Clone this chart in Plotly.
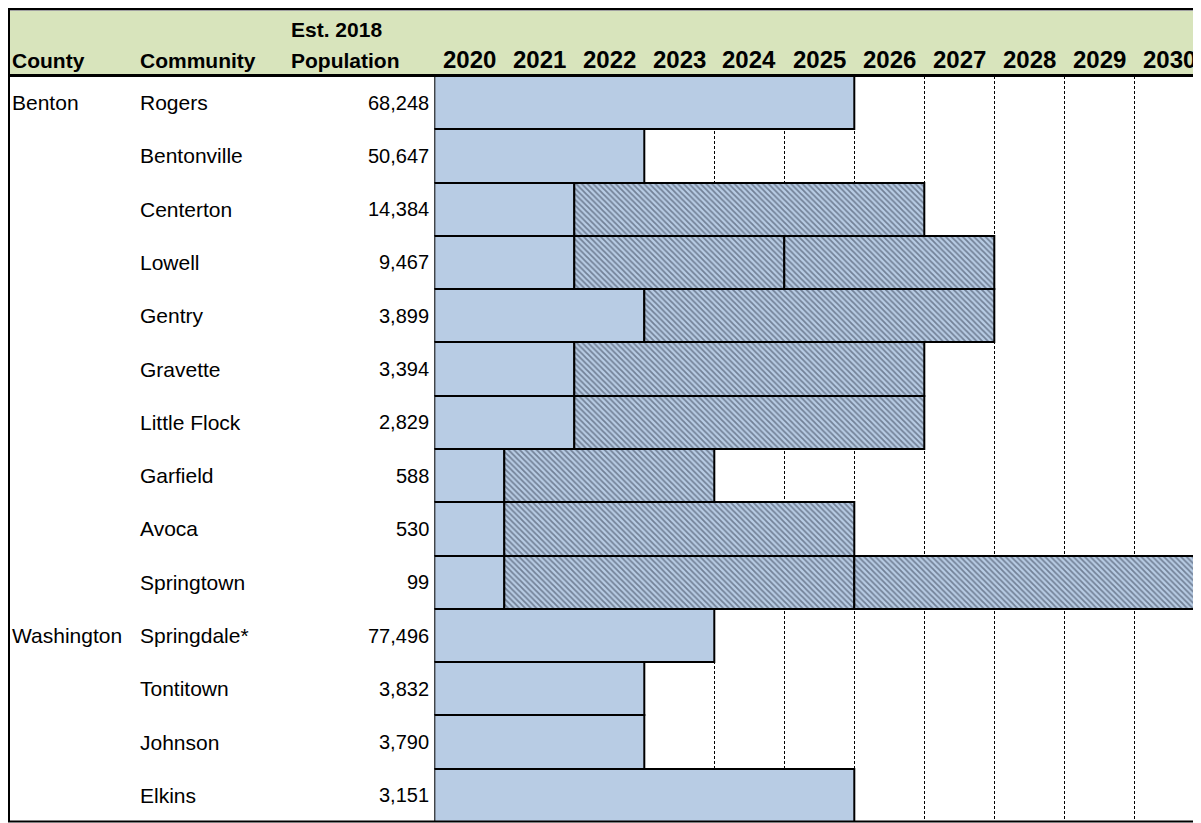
import plotly.graph_objects as go

# ---------------- data ----------------
counties = ["Benton", "", "", "", "", "", "", "", "", "", "Washington", "", "", ""]
communities = ["Rogers", "Bentonville", "Centerton", "Lowell", "Gentry", "Gravette",
               "Little Flock", "Garfield", "Avoca", "Springtown", "Springdale*",
               "Tontitown", "Johnson", "Elkins"]
population = [68248, 50647, 14384, 9467, 3899, 3394, 2829, 588, 530, 99,
              77496, 3832, 3790, 3151]
start_year = 2020
phase1_end = [2026, 2023, 2022, 2022, 2023, 2022, 2022, 2021, 2021, 2021, 2024, 2023, 2023, 2026]
phase2_end = [None, None, 2027, 2025, 2028, 2027, 2027, 2024, 2026, 2026, None, None, None, None]
phase3_end = [None, None, None, 2028, None, None, None, None, None, 2031, None, None, None, None]
years = list(range(2020, 2031))
headers = ["County", "Community", "Est. 2018", "Population"]

# ---------------- geometry (screen pixels; page body has an 8px margin) ----------------
OFF = 8
W, H = 1201 - OFF, 823 - OFF
def px_x(p):
    return (p - OFF) / W
def px_y(p):
    return 1 - (p - OFF) / H

BLUE = "#b8cce4"
GREEN = "#d8e4bc"
HATCH = "#2c3549"
FONT = "Liberation Sans"

fig = go.Figure()
pattern = dict(shape="\\", fgcolor=HATCH, bgcolor=BLUE, size=4, solidity=0.45)

# phase 1 (solid blue)
fig.add_trace(go.Bar(
    y=communities, x=[e - start_year for e in phase1_end], base=[start_year] * len(communities),
    orientation="h", width=1, marker=dict(color=BLUE, line=dict(color="black", width=2)),
    hoverinfo="skip", showlegend=False))

# phase 2 (hatched)
fig.add_trace(go.Bar(
    y=communities,
    x=[(b - a) if b is not None else None for a, b in zip(phase1_end, phase2_end)],
    base=phase1_end, orientation="h", width=1,
    marker=dict(color=BLUE, line=dict(color="black", width=2), pattern=pattern),
    hoverinfo="skip", showlegend=False))

# phase 3 (hatched)
fig.add_trace(go.Bar(
    y=communities,
    x=[(c - b) if c is not None else None for b, c in zip(phase2_end, phase3_end)],
    base=[b if b is not None else start_year for b in phase2_end], orientation="h", width=1,
    marker=dict(color=BLUE, line=dict(color="black", width=2), pattern=pattern),
    hoverinfo="skip", showlegend=False))

x_left_px, unit_px = 434.3, 70.0
x_max = start_year + (1201 - x_left_px) / unit_px
row_top, row_bot = 76, 822

fig.update_layout(
    width=W, height=H, margin=dict(l=0, r=0, t=0, b=0),
    paper_bgcolor="white", plot_bgcolor="white",
    barmode="overlay", bargap=0,
    font=dict(family=FONT, color="black", size=21),
    xaxis=dict(domain=[px_x(x_left_px), 1], range=[start_year, x_max],
               showticklabels=False, ticks="", zeroline=False,
               showgrid=True, gridcolor="black", gridwidth=1, griddash="3px,2px",
               tick0=start_year, dtick=1, showline=False, fixedrange=True),
    yaxis=dict(domain=[px_y(row_bot), px_y(row_top)], range=[len(communities) - 0.5, -0.5],
               showticklabels=False, ticks="", showgrid=False, zeroline=False,
               showline=False, fixedrange=True, categoryorder="array",
               categoryarray=communities),
)

shapes = []
# header fill
shapes.append(dict(type="rect", xref="paper", yref="paper", x0=px_x(9), x1=1,
                   y0=px_y(74), y1=px_y(10), fillcolor=GREEN, line=dict(width=0), layer="below"))
# frame lines
shapes.append(dict(type="line", xref="paper", yref="paper", x0=0, x1=1,
                   y0=px_y(9), y1=px_y(9), line=dict(color="black", width=2)))
shapes.append(dict(type="line", xref="paper", yref="paper", x0=px_x(10), x1=1,
                   y0=px_y(10.5), y1=px_y(10.5), line=dict(color="#a0a0a0", width=1)))
shapes.append(dict(type="line", xref="paper", yref="paper", x0=px_x(9), x1=px_x(9),
                   y0=px_y(8), y1=px_y(822), line=dict(color="black", width=2)))
shapes.append(dict(type="line", xref="paper", yref="paper", x0=px_x(8), x1=1,
                   y0=px_y(75.5), y1=px_y(75.5), line=dict(color="black", width=3)))
shapes.append(dict(type="line", xref="paper", yref="paper", x0=px_x(8), x1=1,
                   y0=px_y(821.5), y1=px_y(821.5), line=dict(color="black", width=2)))
fig.update_layout(shapes=shapes)

ann = []
# header labels
ann.append(dict(text="<b>%s</b>" % headers[0], xref="paper", yref="paper", x=px_x(10), y=px_y(61),
                xanchor="left", yanchor="middle", showarrow=False, font=dict(size=21)))
ann.append(dict(text="<b>%s</b>" % headers[1], xref="paper", yref="paper", x=px_x(138), y=px_y(61),
                xanchor="left", yanchor="middle", showarrow=False, font=dict(size=21)))
ann.append(dict(text="<b>%s</b>" % headers[2], xref="paper", yref="paper", x=px_x(289), y=px_y(30),
                xanchor="left", yanchor="middle", showarrow=False, font=dict(size=21)))
ann.append(dict(text="<b>%s</b>" % headers[3], xref="paper", yref="paper", x=px_x(289), y=px_y(61),
                xanchor="left", yanchor="middle", showarrow=False, font=dict(size=21)))
for yr in years:
    ann.append(dict(text="<b>%d</b>" % yr, xref="x", yref="paper", x=yr + 0.5, y=px_y(60),
                    xanchor="center", yanchor="middle", showarrow=False, font=dict(size=24)))
# table body
for c, name, pop in zip(counties, communities, population):
    if c:
        ann.append(dict(text=c, xref="paper", yref="y", x=px_x(10), y=name,
                        xanchor="left", yanchor="middle", showarrow=False))
    ann.append(dict(text=name, xref="paper", yref="y", x=px_x(138), y=name,
                    xanchor="left", yanchor="middle", showarrow=False))
    ann.append(dict(text=f"{pop:,}", xref="paper", yref="y", x=px_x(431), y=name,
                    xanchor="right", yanchor="middle", showarrow=False, font=dict(size=20)))
fig.update_layout(annotations=ann)

fig.write_html("out.html")
